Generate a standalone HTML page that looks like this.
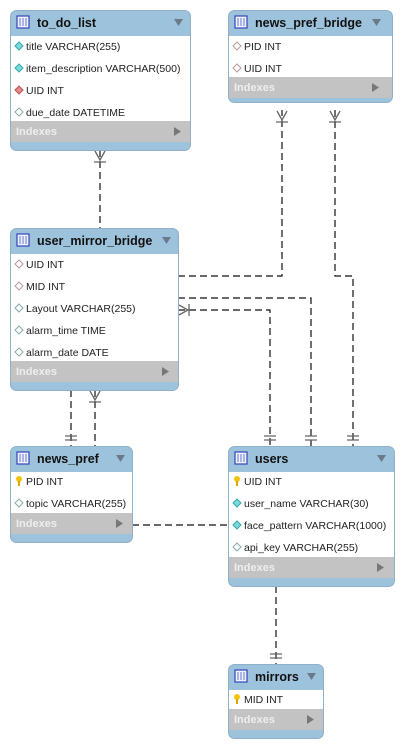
<!DOCTYPE html>
<html><head><meta charset="utf-8"><style>
html,body{margin:0;padding:0;background:#fff;}
svg{display:block;font-family:"Liberation Sans",sans-serif;}
.t{font-size:12.5px;font-weight:bold;fill:#111;}
.r{font-size:10.5px;fill:#222;}
.ix{font-size:11px;font-weight:bold;fill:#eee;}
.ln{stroke:#111;stroke-width:1.2;stroke-dasharray:7,4;fill:none;}
.mk{stroke:#666;stroke-width:1.3;fill:none;}
</style></head><body>
<svg width="404" height="748" viewBox="0 0 404 748">
<defs>
<g id="ic"><rect x="0" y="0" width="12" height="12" fill="#eef3ff" stroke="#3344bb" stroke-width="1.2"/><path d="M3 2v8M6 2v8M9 2v8" stroke="#6677cc" stroke-width="1"/></g>
<g id="dc"><path d="M0 -4L4 0L0 4L-4 0Z" fill="#7dd8dc" stroke="#3aa"/></g>
<g id="dw"><path d="M0 -4L4 0L0 4L-4 0Z" fill="#fff" stroke="#8aa"/></g>
<g id="dr"><path d="M0 -4L4 0L0 4L-4 0Z" fill="#e08a8a" stroke="#b55"/></g>
<g id="dp"><path d="M0 -4L4 0L0 4L-4 0Z" fill="#fff" stroke="#b99"/></g>
<g id="ky"><ellipse cx="0" cy="-2" rx="3" ry="3" fill="#f2c500"/><rect x="-1" y="0" width="2" height="5" fill="#d9a800"/></g>
</defs>

<!-- connectors -->
<path class="ln" d="M100 150V228"/>
<path class="mk" d="M95 151L100 160L105 151M94 162H106"/>
<path class="ln" d="M178 276H282V110"/>
<path class="mk" d="M277 111L282 120L287 111M276 122H288"/>
<path class="ln" d="M335 110V276H353V446"/>
<path class="mk" d="M330 111L335 120L340 111M329 122H341"/>
<path class="ln" d="M178 298H311V446"/>
<path class="ln" d="M178 310H270V446"/>
<path class="mk" d="M179 305L188 310L179 315M189 304V316"/>
<path class="mk" d="M264 436H276M264 440H276M305 436H317M305 440H317M347 436H359M347 440H359"/>
<path class="ln" d="M71 390V446"/>
<path class="mk" d="M65 436H77M65 440H77"/>
<path class="ln" d="M95 390V446"/>
<path class="mk" d="M90 391L95 400L100 391M89 402H101"/>
<path class="ln" d="M132 525H228"/>
<path class="ln" d="M276 586V664"/>
<path class="mk" d="M270 654H282M270 658H282"/>

<!-- to_do_list -->
<rect x="10.5" y="10.5" width="180" height="140" rx="6" fill="#9dc3dc" stroke="#8fb0c8"/>
<rect x="11" y="36" width="179" height="85" fill="#fff"/>
<rect x="11" y="121" width="179" height="21" fill="#c3c3c3"/>
<use href="#ic" x="17" y="16"/>
<text class="t" x="37" y="27">to_do_list</text>
<path d="M174 19h9l-4.5 7z" fill="#6a7a88"/>
<use href="#dc" x="19" y="46"/><text class="r" x="26" y="50">title VARCHAR(255)</text>
<use href="#dc" x="19" y="68"/><text class="r" x="26" y="72">item_description VARCHAR(500)</text>
<use href="#dr" x="19" y="90"/><text class="r" x="26" y="94">UID INT</text>
<use href="#dw" x="19" y="112"/><text class="r" x="26" y="116">due_date DATETIME</text>
<text class="ix" x="16" y="135">Indexes</text><path d="M174 127v9l7-4.5z" fill="#777"/>

<!-- news_pref_bridge -->
<rect x="228.5" y="10.5" width="164" height="92" rx="6" fill="#9dc3dc" stroke="#8fb0c8"/>
<rect x="229" y="36" width="163" height="41" fill="#fff"/>
<rect x="229" y="77" width="163" height="21" fill="#c3c3c3"/>
<use href="#ic" x="235" y="16"/>
<text class="t" x="255" y="27">news_pref_bridge</text>
<path d="M372 19h9l-4.5 7z" fill="#6a7a88"/>
<use href="#dp" x="237" y="46"/><text class="r" x="244" y="50">PID INT</text>
<use href="#dp" x="237" y="68"/><text class="r" x="244" y="72">UID INT</text>
<text class="ix" x="234" y="91">Indexes</text><path d="M372 83v9l7-4.5z" fill="#777"/>

<!-- user_mirror_bridge -->
<rect x="10.5" y="228.5" width="168" height="162" rx="6" fill="#9dc3dc" stroke="#8fb0c8"/>
<rect x="11" y="254" width="167" height="107" fill="#fff"/>
<rect x="11" y="361" width="167" height="21" fill="#c3c3c3"/>
<use href="#ic" x="17" y="234"/>
<text class="t" x="37" y="245">user_mirror_bridge</text>
<path d="M162 237h9l-4.5 7z" fill="#6a7a88"/>
<use href="#dp" x="19" y="264"/><text class="r" x="26" y="268">UID INT</text>
<use href="#dp" x="19" y="286"/><text class="r" x="26" y="290">MID INT</text>
<use href="#dw" x="19" y="308"/><text class="r" x="26" y="312">Layout VARCHAR(255)</text>
<use href="#dw" x="19" y="330"/><text class="r" x="26" y="334">alarm_time TIME</text>
<use href="#dw" x="19" y="352"/><text class="r" x="26" y="356">alarm_date DATE</text>
<text class="ix" x="16" y="375">Indexes</text><path d="M162 367v9l7-4.5z" fill="#777"/>

<!-- news_pref -->
<rect x="10.5" y="446.5" width="122" height="96" rx="6" fill="#9dc3dc" stroke="#8fb0c8"/>
<rect x="11" y="472" width="121" height="41" fill="#fff"/>
<rect x="11" y="513" width="121" height="21" fill="#c3c3c3"/>
<use href="#ic" x="17" y="452"/>
<text class="t" x="37" y="463">news_pref</text>
<path d="M116 455h9l-4.5 7z" fill="#6a7a88"/>
<use href="#ky" x="19" y="481"/><text class="r" x="26" y="485">PID INT</text>
<use href="#dw" x="19" y="503"/><text class="r" x="26" y="507">topic VARCHAR(255)</text>
<text class="ix" x="16" y="527">Indexes</text><path d="M116 519v9l7-4.5z" fill="#777"/>

<!-- users -->
<rect x="228.5" y="446.5" width="166" height="140" rx="6" fill="#9dc3dc" stroke="#8fb0c8"/>
<rect x="229" y="472" width="165" height="85" fill="#fff"/>
<rect x="229" y="557" width="165" height="21" fill="#c3c3c3"/>
<use href="#ic" x="235" y="452"/>
<text class="t" x="255" y="463">users</text>
<path d="M377 455h9l-4.5 7z" fill="#6a7a88"/>
<use href="#ky" x="237" y="481"/><text class="r" x="244" y="485">UID INT</text>
<use href="#dc" x="237" y="503"/><text class="r" x="244" y="507">user_name VARCHAR(30)</text>
<use href="#dc" x="237" y="525"/><text class="r" x="244" y="529">face_pattern VARCHAR(1000)</text>
<use href="#dw" x="237" y="547"/><text class="r" x="244" y="551">api_key VARCHAR(255)</text>
<text class="ix" x="234" y="571">Indexes</text><path d="M377 563v9l7-4.5z" fill="#777"/>

<!-- mirrors -->
<rect x="228.5" y="664.5" width="95" height="74" rx="6" fill="#9dc3dc" stroke="#8fb0c8"/>
<rect x="229" y="690" width="94" height="19" fill="#fff"/>
<rect x="229" y="709" width="94" height="21" fill="#c3c3c3"/>
<use href="#ic" x="235" y="670"/>
<text class="t" x="255" y="681">mirrors</text>
<path d="M307 673h9l-4.5 7z" fill="#6a7a88"/>
<use href="#ky" x="237" y="699"/><text class="r" x="244" y="703">MID INT</text>
<text class="ix" x="234" y="723">Indexes</text><path d="M307 715v9l7-4.5z" fill="#777"/>
</svg>
</body></html>
